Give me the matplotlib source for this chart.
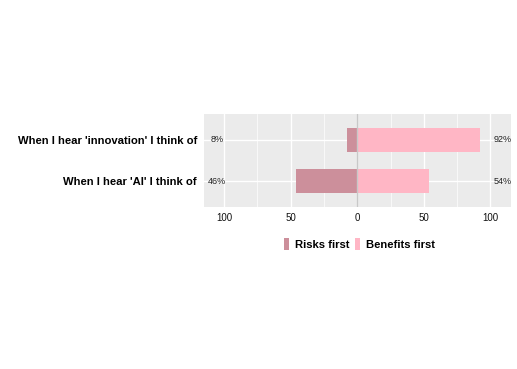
import matplotlib.pyplot as plt
import numpy as np
from matplotlib.patches import Patch

plt.rcParams['font.family'] = ['Liberation Sans', 'DejaVu Sans']

questions = ["When I hear 'AI' I think of", "When I hear 'innovation' I think of"]
risks = [46, 8]
benefits = [54, 92]
series = ['Risks first', 'Benefits first']
colors = ['#CC8F9B', '#FFB6C5']

fig = plt.figure(figsize=(5.17, 3.69), dpi=100)
ax = fig.add_axes([0.3946, 0.439, 0.594, 0.252])
ax.set_facecolor('#EBEBEB')

y = np.arange(1, len(questions) + 1)
ax.barh(y, [-r for r in risks], height=0.6, color=colors[0], zorder=3)
ax.barh(y, benefits, height=0.6, color=colors[1], zorder=3)
ax.axvline(0, color='#C8C8C8', lw=1.0, zorder=4)

for yi, r, b in zip(y, risks, benefits):
    ax.text(-105, yi, f'{r}%', ha='center', va='center', fontsize=6.5, color='#222222', zorder=5)
    ax.text(109, yi, f'{b}%', ha='center', va='center', fontsize=6.5, color='#222222', zorder=5)

ax.set_xlim(-115, 115.5)
ax.set_ylim(0.37, 2.63)
ax.set_xticks([-100, -50, 0, 50, 100])
ax.set_xticklabels(['100', '50', '0', '50', '100'])
ax.set_xticks([-75, -25, 25, 75], minor=True)
ax.set_yticks(y)
ax.set_yticklabels(questions, fontsize=8.1, fontweight='bold')
ax.grid(True, which='major', color='white', lw=1.0, zorder=1)
ax.grid(True, which='minor', axis='x', color='white', lw=0.5, zorder=1)
ax.tick_params(axis='x', which='major', labelsize=7, length=0, pad=4, colors='#111111')
ax.tick_params(axis='x', which='minor', length=0)
ax.tick_params(axis='y', length=0, pad=5)
for s in ax.spines.values():
    s.set_visible(False)

handles = [Patch(facecolor=c, label=s) for c, s in zip(colors, series)]
fig.legend(handles=handles, loc='center', bbox_to_anchor=(0.695, 0.339), ncol=2, frameon=False,
           handlelength=0.45, handleheight=1.3, handletextpad=0.5, columnspacing=0.5,
           prop={'size': 8.1, 'weight': 'bold'})

fig.savefig('out.png', dpi=100)
